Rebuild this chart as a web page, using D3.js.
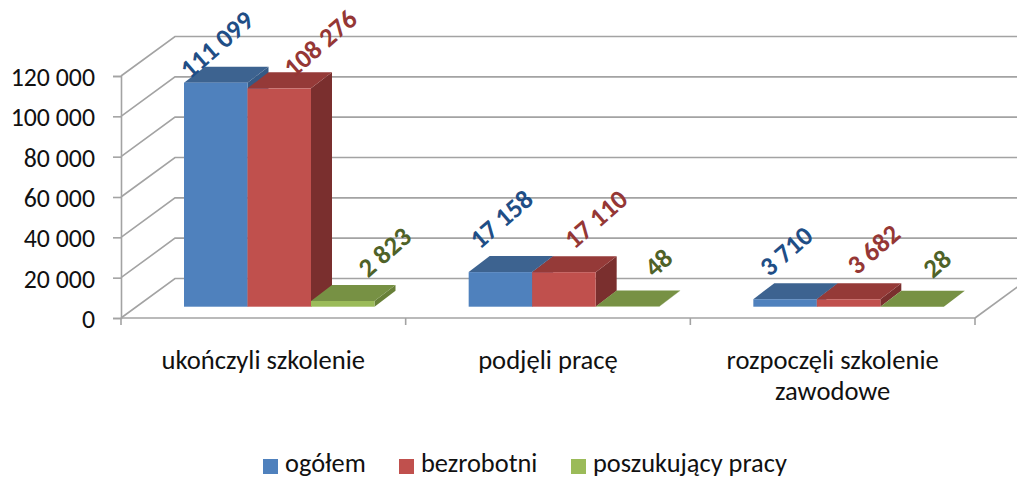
<!DOCTYPE html>
<html><head><meta charset="utf-8">
<script src="https://cdn.jsdelivr.net/npm/d3@7"></script>
<style>html,body{margin:0;background:#fff;overflow:hidden}svg{display:block}text{font-family:Carlito,Lato,"Open Sans",sans-serif}</style>
</head><body><svg id="c" width="1017" height="478"></svg>
<script>
const categories = [["ukończyli szkolenie"],["podjęli pracę"],["rozpoczęli szkolenie","zawodowe"]];
const seriesNames = ["ogółem","bezrobotni","poszukujący pracy"];
const ogolem = [111099,17158,3710];
const bezrobotni = [108276,17110,3682];
const poszukujacy = [2823,48,28];
const tickValues = [0,20000,40000,60000,80000,100000,120000];

const seriesValues = [ogolem,bezrobotni,poszukujacy];
const palette = [
 {front:"#4F81BD",top:"#3D6390",side:"#355A86",label:"#1F4E86"},
 {front:"#C0504D",top:"#953A38",side:"#7A2F2E",label:"#953735"},
 {front:"#9BBB59",top:"#779144",side:"#688038",label:"#4F6228"}];
// label centre offsets relative to bar front-top centre
const labelNudge = [
 [[1,-38],[1,-53],[1,-48]],
 [[41,-45],[32,-53],[25,-50]],
 [[42,-49],[31,-44],[25,-43]]];

const svg = d3.select("#c");
const y = d3.scaleLinear().domain([0,120000]).range([318,76]);
const x = d3.scaleBand().domain(d3.range(3)).range([121,975]);
const sub = d3.scaleBand().domain(d3.range(3)).range([63,63+190.5]);
const wall = {dx:54,dy:-39.5}, depth = {dx:21,dy:-16}, base = -11.3;
const fmt = v => d3.format(",")(v).replace(/,/g," ");
const grid = "#A3A3A3";

const g = svg.append("g");
tickValues.forEach(t=>{
  g.append("path").attr("fill","none").attr("stroke",grid).attr("stroke-width",1.6)
   .attr("d",d3.line()([[121,y(t)],[121+wall.dx,y(t)+wall.dy],[975+wall.dx,y(t)+wall.dy]]));
});
g.append("path").attr("fill","none").attr("stroke",grid).attr("stroke-width",1.6)
 .attr("d",d3.line()([[975,318],[975+wall.dx,318+wall.dy]]));

const yAxis = d3.axisLeft(y).tickValues(tickValues).tickFormat(fmt).tickSize(8).tickPadding(8);
const ya = svg.append("g").attr("transform","translate(121,0)").call(yAxis);
ya.selectAll("line,path").attr("stroke",grid).attr("stroke-width",1.6);
ya.selectAll("text").attr("font-size",25.8).attr("fill","#111").attr("x",-26).attr("dy",9.5);

const xa = svg.append("g").attr("transform","translate(0,318)");
xa.append("line").attr("x1",121).attr("x2",975).attr("stroke",grid).attr("stroke-width",1.6);
[0,1,2].forEach(i=>xa.append("line").attr("x1",x(i)).attr("x2",x(i)).attr("y2",7).attr("stroke",grid).attr("stroke-width",1.6));
xa.append("line").attr("x1",975).attr("x2",975).attr("y2",7).attr("stroke",grid).attr("stroke-width",1.6);

categories.forEach((lines,i)=>{
  lines.forEach((l,j)=>svg.append("text").text(l).attr("x",x(i)+x.step()/2).attr("y",369+j*31)
    .attr("text-anchor","middle").attr("font-size",26.6).attr("fill","#111"));
});

const bars = svg.append("g");
[0,1,2].forEach(c=>{
  [0,1,2].forEach(s=>{
    const v = seriesValues[s][c];
    const x0 = x(c)+sub(s), x1 = x0+sub.bandwidth();
    const y0 = y(0)+base, y1 = y(v)+base;
    const d = depth, p = palette[s];
    bars.append("polygon").attr("fill",p.side)
      .attr("points",[[x1,y0],[x1+d.dx,y0+d.dy],[x1+d.dx,y1+d.dy],[x1,y1]].join(" "));
    bars.append("polygon").attr("fill",p.top)
      .attr("points",[[x0,y1],[x0+d.dx,y1+d.dy],[x1+d.dx,y1+d.dy],[x1,y1]].join(" "));
    bars.append("rect").attr("x",x0).attr("y",y1).attr("width",x1-x0).attr("height",Math.max(y0-y1,0)).attr("fill",p.front);
  });
});
[0,1,2].forEach(c=>[0,1,2].forEach(s=>{
  const v = seriesValues[s][c], n = labelNudge[s][c];
  const cx = x(c)+sub(s)+sub.bandwidth()/2+n[0], cy = y(v)+base+n[1];
  svg.append("text").text(fmt(v)).attr("text-anchor","middle").attr("dominant-baseline","central")
    .attr("transform",`translate(${cx},${cy}) rotate(-41)`)
    .attr("font-size",26.5).attr("font-weight",700).attr("fill",palette[s].label);
}));

const legendX = [263,399,571];
seriesNames.forEach((n,i)=>{
  svg.append("rect").attr("x",legendX[i]).attr("y",459).attr("width",15).attr("height",15).attr("fill",palette[i].front);
  svg.append("text").text(n).attr("x",legendX[i]+22).attr("y",471.5).attr("font-size",26.4).attr("fill","#111");
});
</script></body></html>
